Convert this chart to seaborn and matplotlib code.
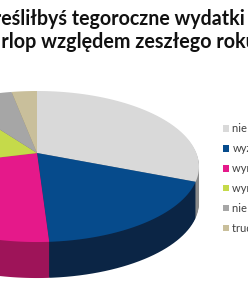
import numpy as np
import matplotlib
matplotlib.use("Agg")
import matplotlib.pyplot as plt
import matplotlib.transforms as mtransforms
from matplotlib.path import Path
import seaborn as sns

# ---- data ----
labels = ["nie zmienią się", "wyższe", "wyraźnie wyższe",
          "wyraźnie niższe", "nie wiem", "trudno powiedzieć"]
values = [31, 18, 22, 19, 7, 3]
top_colors = ["#d9d9d9", "#064b8c", "#e5198a", "#c5da4a", "#a6a6a6", "#c9bf9b"]
side_colors = ["#8a8a8a", "#0b2545", "#9e1459", "#8a9a30", "#6f6f6f", "#8e8566"]
title_line1 = "Jak określiłbyś tegoroczne wydatki na"
title_line2 = "urlop względem zeszłego roku?"

W, H, DPI = 248, 300, 100
sns.set_theme(style="white")
plt.rcParams["font.family"] = ["Lato", "DejaVu Sans"]

fig = plt.figure(figsize=(W / DPI, H / DPI), dpi=DPI)
fig.patch.set_facecolor("white")

# ---- perspective (homography) applied to the pie's wedges ----
K = 0.179


class Persp(mtransforms.Transform):
    input_dims = output_dims = 2
    is_separable = False
    has_inverse = False

    def transform_non_affine(self, xy):
        xy = np.asarray(xy, dtype=float)
        d = 1 + K * xy[:, 1]
        return np.column_stack([xy[:, 0] / d, xy[:, 1] / d])

    def transform_path_non_affine(self, path):
        s = 1000.0
        polys = path.to_polygons(transform=mtransforms.Affine2D().scale(s),
                                 closed_only=True)
        verts, codes = [], []
        for p in polys:
            verts.append(self.transform_non_affine(np.asarray(p) / s))
            codes += [Path.MOVETO] + [Path.LINETO] * (len(p) - 2) + [Path.CLOSEPOLY]
        return Path(np.concatenate(verts), codes)


persp = Persp()

# axes covers the figure; limits chosen so the pie sits as in the reference
cx, cy = 37, 153          # pie centre in pixels (from top-left)
A, B = 159.4, 73.1        # pixels per unit (x, y)
ax = fig.add_axes([0, 0, 1, 1])

thick = 36
for d in range(thick, 0, -1):
    side, _ = ax.pie(values, colors=side_colors, startangle=90, counterclock=False,
                     wedgeprops=dict(linewidth=0, clip_on=False))
    off = mtransforms.ScaledTranslation(0, -d / DPI, fig.dpi_scale_trans)
    for w in side:
        w.set_transform(persp + ax.transData + off)
        w.set_zorder(1)

wedges, _ = ax.pie(values, colors=top_colors, startangle=90, counterclock=False,
                   wedgeprops=dict(linewidth=0, clip_on=False))
for w in wedges:
    w.set_transform(persp + ax.transData)
    w.set_zorder(3)

ax.set_aspect("auto")
ax.set_xlim((0 - cx) / A, (W - cx) / A)
ax.set_ylim((cy - H) / B, cy / B)
ax.axis("off")

# ---- title (cropped by the figure edges) ----
r = fig.canvas.get_renderer()


def text_width(s, **kw):
    t = fig.text(0, 0, s, **kw)
    w = t.get_window_extent(r).width
    t.remove()
    return w


tkw = dict(fontweight="bold", color="#111111")
base = 10
fs1 = base * 243 / text_width("eśliłbyś tegoroczne wydatki", fontsize=base, **tkw)
fs2 = base * 246 / text_width("rlop względem zeszłego rok", fontsize=base, **tkw)
fs = (fs1 + fs2) / 2
x1 = 1 - text_width("Jak okr", fontsize=fs1, **tkw)
fig.text(x1 / W, (H - 25) / H, title_line1, ha="left", va="baseline", fontsize=fs1, **tkw)
x2 = 245.5 - text_width("urlop względem zeszłego rok", fontsize=fs, **tkw)
fig.text(x2 / W, (H - 48) / H, title_line2, ha="left", va="baseline", fontsize=fs, **tkw)

# ---- legend ----
leg = fig.legend(wedges, labels, loc="upper left",
                 bbox_to_anchor=(223 / W, 1 - 123.5 / H), bbox_transform=fig.transFigure,
                 frameon=False, fontsize=8, handlelength=0.5, handleheight=0.5,
                 handletextpad=0.35, labelspacing=0.8, borderpad=0, borderaxespad=0)
for t in leg.get_texts():
    t.set_color("#404040")

fig.savefig("out.png", dpi=DPI, facecolor="white")
